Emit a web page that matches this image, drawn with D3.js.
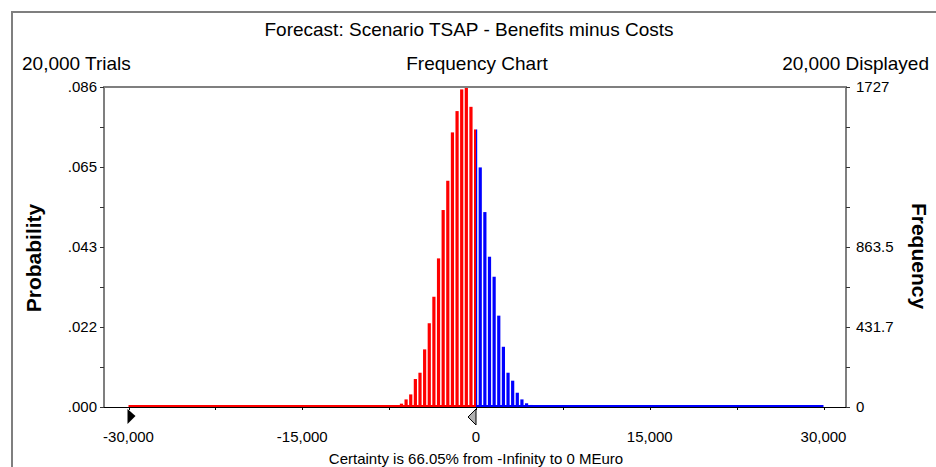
<!DOCTYPE html>
<html>
<head>
<meta charset="utf-8">
<script src="https://cdnjs.cloudflare.com/ajax/libs/d3/7.8.5/d3.min.js"></script>
<style>
body { margin: 0; background: #fff; }
text { font-family: "Liberation Sans", Arial, sans-serif; fill: #000; }
</style>
</head>
<body>
<svg class="chart"></svg>
<script>
var width = 936, height = 467;

// bin centres (MEuro) and how many trials fell in each bin
var binCenters = [-6800, -6400, -6000, -5600, -5200, -4800, -4400, -4000, -3600, -3200,
                  -2800, -2400, -2000, -1600, -1200, -800, -400, 0,
                  400, 800, 1200, 1600, 2000, 2400, 2800, 3200, 3600, 4000, 4400, 4800, 5200];
var counts = [9, 18, 41, 68, 151, 185, 311, 452, 595, 802,
              1063, 1221, 1482, 1597, 1714, 1727, 1620, 1498,
              1293, 1052, 811, 703, 493, 325, 185, 142, 77, 41, 20, 11, 9];

var trials = 20000;
var maxCount = 1727;
var certaintyFrom = -30000, certaintyTo = 0;

var xTicks = [-30000, -15000, 0, 15000, 30000];
var xMinorTicks = [-22500, -7500, 7500, 22500];
var probLabels = [".000", ".022", ".043", ".065", ".086"];
var freqLabels = ["0", "431.7", "863.5", "", "1727"];

var chart = d3.select(".chart")
    .attr("width", width)
    .attr("height", height);

// plot box
var pLeft = 104, pRight = 846, pTop = 87, pBottom = 407;

var x_scale = d3.scaleLinear()
    .domain([-30000, 30000])
    .range([128.5, 823.5]);

var y_scale = d3.scaleLinear()
    .domain([0, maxCount])
    .range([pBottom, pTop]);

var p_scale = d3.scaleLinear()
    .domain([0, maxCount / trials])
    .range([pBottom, pTop]);

// outer frame
chart.append("path")
    .attr("d", "M12," + height + "V12H" + width)
    .attr("fill", "none")
    .attr("stroke", "#7f7f7f")
    .attr("stroke-width", 2);

// titles
chart.append("text")
    .attr("x", 469).attr("y", 36)
    .attr("text-anchor", "middle")
    .style("font-size", "19px")
    .text("Forecast: Scenario TSAP - Benefits minus Costs");

chart.append("text")
    .attr("x", 22).attr("y", 70)
    .style("font-size", "19px")
    .text("20,000 Trials");

chart.append("text")
    .attr("x", 477).attr("y", 70)
    .attr("text-anchor", "middle")
    .style("font-size", "19px")
    .text("Frequency Chart");

chart.append("text")
    .attr("x", 929).attr("y", 70)
    .attr("text-anchor", "end")
    .style("font-size", "19px")
    .text("20,000 Displayed");

// clip regions: red left of the certainty bound, blue to the right
var defs = chart.append("defs");
defs.append("clipPath").attr("id", "clipRed")
    .append("rect")
    .attr("x", pLeft).attr("y", pTop)
    .attr("width", x_scale(certaintyTo) - pLeft)
    .attr("height", pBottom - pTop + 2);
defs.append("clipPath").attr("id", "clipBlue")
    .append("rect")
    .attr("x", x_scale(certaintyTo)).attr("y", pTop)
    .attr("width", pRight - x_scale(certaintyTo))
    .attr("height", pBottom - pTop + 2);

var barW = 3.2;

function drawBars(clip, color) {
    var g = chart.append("g").attr("clip-path", "url(#" + clip + ")");
    g.selectAll("rect.bar")
        .data(binCenters)
        .enter().append("rect")
        .attr("class", "bar")
        .attr("x", function(d) { return x_scale(d) - barW / 2 - 0.4; })
        .attr("y", function(d, i) { return y_scale(counts[i]); })
        .attr("width", barW)
        .attr("height", function(d, i) { return pBottom - y_scale(counts[i]); })
        .attr("fill", color);
    // empty bins show as a line along the base
    g.append("rect")
        .attr("x", x_scale(certaintyFrom))
        .attr("y", pBottom - 2)
        .attr("width", x_scale(30000) - x_scale(certaintyFrom))
        .attr("height", 2)
        .attr("fill", color);
}
drawBars("clipRed", "#ff0000");
drawBars("clipBlue", "#0000ff");

// plot border (grey top / left / right)
chart.append("path")
    .attr("d", "M" + pLeft + "," + pBottom + "V" + pTop + "H" + pRight + "V" + pBottom)
    .attr("fill", "none")
    .attr("stroke", "#7f7f7f")
    .attr("stroke-width", 2);

// x axis
chart.append("line")
    .attr("x1", pLeft - 2).attr("x2", pRight)
    .attr("y1", pBottom + 0.5).attr("y2", pBottom + 0.5)
    .attr("stroke", "#000");

chart.selectAll(".xminor")
    .data(xMinorTicks.concat(xTicks))
    .enter().append("line")
    .attr("x1", function(d) { return Math.round(x_scale(d)) + 0.5; })
    .attr("x2", function(d) { return Math.round(x_scale(d)) + 0.5; })
    .attr("y1", pBottom + 1).attr("y2", pBottom + 3)
    .attr("stroke", "#000");

chart.selectAll(".xlabel")
    .data(xTicks)
    .enter().append("text")
    .attr("x", function(d) { return x_scale(d); })
    .attr("y", 442)
    .attr("text-anchor", "middle")
    .style("font-size", "15px")
    .text(function(d) { return d3.format(",")(d).replace("−", "-"); });

// left axis: probability
var probMax = maxCount / trials;
var y_axis = d3.axisLeft(p_scale)
    .tickValues(d3.range(9).map(function(i) { return i * probMax / 8; }))
    .tickSize(4)
    .tickPadding(3)
    .tickFormat(function(d, i) { return i % 2 == 0 ? probLabels[i / 2] : ""; });

var ya = chart.append("g")
    .attr("transform", "translate(" + pLeft + ",0)")
    .call(y_axis);
ya.select(".domain").remove();
ya.selectAll("line").attr("stroke", "#333");
ya.selectAll("text")
    .style("font-size", "15px")
    .style("font-family", "'Liberation Sans', Arial, sans-serif")
    .attr("fill", "#000");

// right axis: frequency
var f_axis = d3.axisRight(y_scale)
    .tickValues(d3.range(9).map(function(i) { return i * maxCount / 8; }))
    .tickSize(4)
    .tickPadding(6)
    .tickFormat(function(d, i) { return i % 2 == 0 ? freqLabels[i / 2] : ""; });

var fa = chart.append("g")
    .attr("transform", "translate(" + pRight + ",0)")
    .call(f_axis);
fa.select(".domain").remove();
fa.selectAll("line").attr("stroke", "#333");
fa.selectAll("text")
    .style("font-size", "15px")
    .style("font-family", "'Liberation Sans', Arial, sans-serif")
    .attr("fill", "#000");

// axis titles
chart.append("text")
    .attr("transform", "translate(41,258) rotate(-90)")
    .attr("text-anchor", "middle")
    .style("font-size", "21px")
    .style("font-weight", "bold")
    .text("Probability");

chart.append("text")
    .attr("transform", "translate(912,256) rotate(90)")
    .attr("text-anchor", "middle")
    .style("font-size", "21px")
    .style("font-weight", "bold")
    .text("Frequency");

// certainty grabbers
var xl = x_scale(certaintyFrom), xr = x_scale(certaintyTo);
chart.append("path")
    .attr("d", "M" + (xl - 1) + ",409L" + (xl + 7) + ",416L" + (xl - 1) + ",424Z")
    .attr("fill", "#000");
chart.append("path")
    .attr("d", "M" + xr + ",409L" + (xr - 8) + ",417L" + xr + ",425Z")
    .attr("fill", "#b0b0b0")
    .attr("stroke", "#000")
    .attr("stroke-width", 1);

chart.append("text")
    .attr("x", 476).attr("y", 464)
    .attr("text-anchor", "middle")
    .style("font-size", "15px")
    .text("Certainty is 66.05% from -Infinity to 0 MEuro");
</script>
</body>
</html>
